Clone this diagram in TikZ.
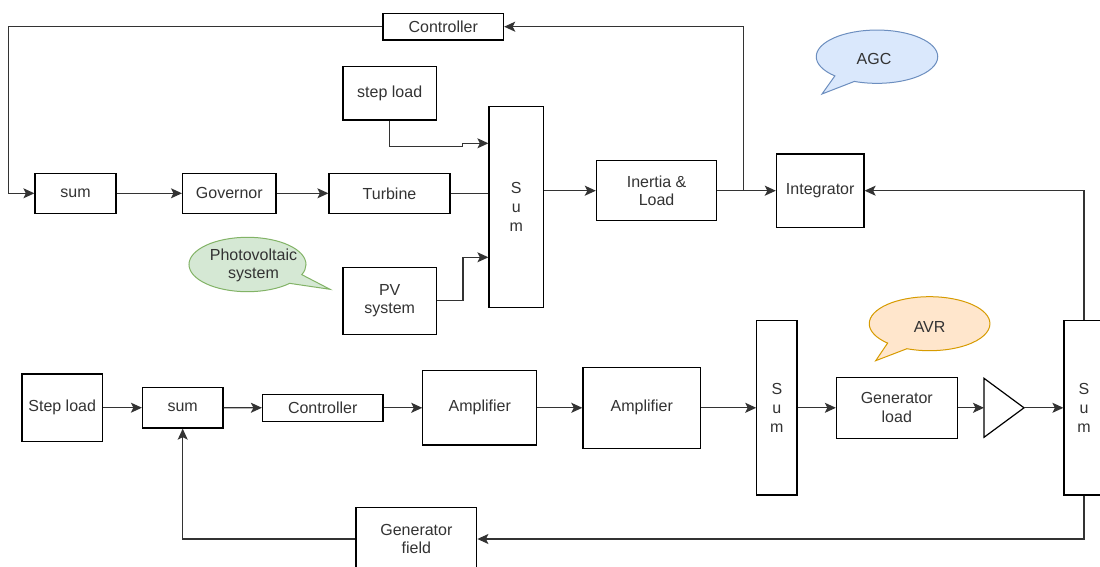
\documentclass[tikz,border=0pt]{standalone}
\usepackage{fontspec}
\setmainfont{Liberation Sans}
\usetikzlibrary{arrows.meta,shapes.callouts,calc}
\definecolor{txt}{HTML}{333333}
\definecolor{agcfill}{HTML}{DAE8FC}
\definecolor{agcdraw}{HTML}{6C8EBF}
\definecolor{pvfill}{HTML}{D5E8D4}
\definecolor{pvdraw}{HTML}{82B366}
\definecolor{avrfill}{HTML}{FFE6CC}
\definecolor{avrdraw}{HTML}{D79B00}
\begin{document}
\begin{tikzpicture}[x=1pt,y=-1pt,
  txtfont/.style={text=txt,font=\fontsize{16}{18.7}\selectfont,align=center},
  blk/.style={draw=black,line width=1.2pt,fill=white,inner sep=0pt,txtfont},
  arr/.style={draw=txt,line width=1.2pt,-{Stealth[length=11pt,width=10pt,inset=2.5pt]}},
  ln/.style={draw=txt,line width=1.2pt},
  callbase/.style={ellipse callout,inner sep=0pt,line width=1pt,callout pointer arc=22,txtfont}]
\fill[white] (0,0) rectangle (1100,567);
\useasboundingbox (0,0) rectangle (1100,567);

% ---------- upper loop (AGC) ----------
\node[blk,minimum width=120.6pt,minimum height=26.7pt] (ctrlT) at (443.3,26.7) {Controller};
\node[blk,minimum width=81pt,minimum height=40pt] (sumT) at (75.5,193.3) {sum};
\node[blk,minimum width=93.5pt,minimum height=40pt] (gov) at (229.3,193.3) {Governor};
\node[blk,minimum width=121pt,minimum height=40pt] (turb) at (389.5,193.3) {Turbine};
\node[blk,minimum width=93.4pt,minimum height=53.3pt] (stepT) at (389.7,93.3) {step load};
\node[blk,minimum width=54.6pt,minimum height=200.6pt] (SumA) at (516.3,207) {S\\u\\m};
\node[blk,minimum width=120.4pt,minimum height=60pt] (inert) at (656.6,190.7) {Inertia \&\\Load};
\node[blk,minimum width=87.6pt,minimum height=73.3pt] (integ) at (820.2,190.7) {Integrator};
\node[blk,minimum width=93.4pt,minimum height=67pt] (pv) at (389.7,300.8) {PV\\system};

% ---------- lower loop (AVR) ----------
\node[blk,minimum width=80.5pt,minimum height=67.3pt] (stepB) at (62.2,407.7) {Step load};
\node[blk,minimum width=80.4pt,minimum height=40.7pt] (sumB) at (182.7,407.7) {sum};
\node[blk,minimum width=120.4pt,minimum height=27pt] (ctrlB) at (322.7,407.8) {Controller};
\node[blk,minimum width=113.9pt,minimum height=74.3pt] (amp1) at (479.8,407.8) {Amplifier};
\node[blk,minimum width=117.8pt,minimum height=81pt] (amp2) at (641.8,407.8) {Amplifier};
\node[blk,minimum width=40.2pt,minimum height=174.3pt] (SumB2) at (776.9,407.8) {S\\u\\m};
\node[blk,minimum width=120.7pt,minimum height=61pt] (genL) at (896.8,407.8) {Generator\\load};
\node[blk,minimum width=40pt,minimum height=174.3pt] (SumB3) at (1084,407.8) {S\\u\\m};
\node[blk,minimum width=120.8pt,minimum height=63pt] (genF) at (416.4,539) {Generator\\field};

% amplifier triangle
\draw[draw=black,line width=1.2pt,fill=white] (984,378.3) -- (1024,407.8) -- (984,437.3) -- cycle;
\coordinate (triL) at (984,407.8);
\coordinate (triR) at (1024,407.8);

% ---------- callouts ----------
\coordinate (agcTip) at (822,94);
\coordinate (pvTip) at (330,289.3);
\coordinate (avrTip) at (875.7,360.7);
\node[callbase,draw=agcdraw,fill=agcfill,minimum width=121.5pt,minimum height=53.3pt,
  callout absolute pointer=(agcTip)] (agc) at (877,56.7) {};
\node[txtfont] (agct) at ($(agc.center)+(-3,2.5)$) {AGC};
\node[callbase,draw=pvdraw,fill=pvfill,minimum width=117pt,minimum height=54.4pt,
  callout absolute pointer=(pvTip)] (pvc) at (247.5,264.5) {};
\node[txtfont] (pvct) at ($(pvc.center)+(6,1)$) {Photovoltaic\\system};
\node[callbase,draw=avrdraw,fill=avrfill,minimum width=120.7pt,minimum height=54pt,
  callout absolute pointer=(avrTip)] (avr) at (929.6,323.7) {};
\node[txtfont] (avrt) at ($(avr.center)+(0,3)$) {AVR};

% ---------- connectors, upper ----------
\coordinate (c1) at (8.6,26.7);
\draw[arr] (ctrlT.west) -- (c1) |- (sumT.west);
\draw[arr] (sumT) -- (gov);
\draw[arr] (gov) -- (turb);
\draw[ln] (turb.east) -- (SumA.west |- turb.east);
\coordinate (j1) at (462.7,146.7);
\coordinate (j2) at (462.7,143.3);
\draw[arr] (stepT.south) |- (j1) -- (j2) -- (SumA.west |- j2);
\coordinate (j3) at (463,257.3);
\draw[arr] (pv.east) -| (j3) -- (SumA.west |- j3);
\draw[arr] (SumA.east |- inert.west) -- (inert.west);
\draw[arr] (inert) -- (integ);
\coordinate (br) at (743.5,190.7);
\draw[arr] (br) |- (ctrlT.east);
\draw[arr] (SumB3.north) |- (integ.east);

% ---------- connectors, lower ----------
\draw[arr] (stepB) -- (sumB);
\draw[arr] (sumB) -- (ctrlB);
\draw[arr] (ctrlB) -- (amp1);
\draw[arr] (amp1) -- (amp2);
\draw[arr] (amp2) -- (SumB2);
\draw[arr] (SumB2) -- (genL);
\draw[arr] (genL) -- (triL);
\draw[arr] (triR) -- (SumB3.west);
\draw[arr] (SumB3.south) |- (genF.east);
\draw[arr] (genF.west) -| (sumB.south);
\end{tikzpicture}
\end{document}
